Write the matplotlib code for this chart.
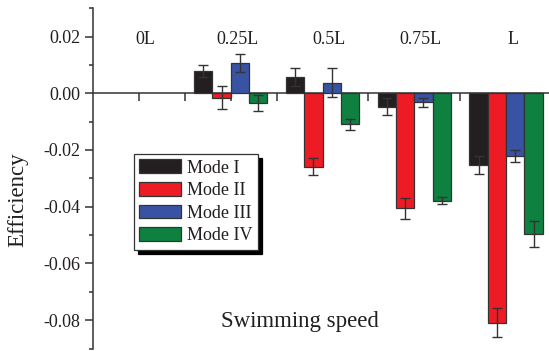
import numpy as np
import matplotlib
matplotlib.use("Agg")
import matplotlib.pyplot as plt

# ==========================================
# DATA
# ==========================================

labels = ["0L", "0.25L", "0.5L", "0.75L", "L"]
modes = ["Mode I", "Mode II", "Mode III", "Mode IV"]

mode1 = [0.0, 0.0079, 0.0056, -0.0047, -0.0253]
mode1_err = [0.0, 0.0020, 0.0032, 0.0030, 0.0032]
mode2 = [0.0, -0.0016, -0.0259, -0.0406, -0.0809]
mode2_err = [0.0, 0.0041, 0.0030, 0.0036, 0.0052]
mode3 = [0.0, 0.0106, 0.0037, -0.0032, -0.0221]
mode3_err = [0.0, 0.0032, 0.0051, 0.0017, 0.0021]
mode4 = [0.0, -0.0035, -0.0109, -0.0379, -0.0497]
mode4_err = [0.0, 0.0028, 0.0019, 0.0012, 0.0046]

colors = ["#231f20", "#ed1c24", "#3953a4", "#0e8040"]

# ==========================================
# FIGURE
# ==========================================

plt.rcParams["font.family"] = ["Liberation Serif", "DejaVu Serif"]
dark = "#231f20"

fig = plt.figure(figsize=(5.49, 3.51), dpi=100)
ax = fig.add_axes([93 / 549, 2.5 / 351, 459 / 549, 340.3 / 351])

x = np.arange(len(labels))
width = 0.2
series = [mode1, mode2, mode3, mode4]
errors = [mode1_err, mode2_err, mode3_err, mode4_err]

for k in range(4):
    pos = x + (k - 1.5) * width
    vals = np.array(series[k])
    errs = np.array(errors[k])
    nz = vals != 0  # 0L has no bars
    ax.bar(pos[nz], vals[nz], width, color=colors[k], edgecolor="#333333",
           linewidth=0.9, label=modes[k], zorder=2)
    m = errs > 0
    ax.errorbar(pos[m], vals[m], yerr=errs[m], fmt="none", ecolor="#333333",
                elinewidth=1.0, capsize=3.5, capthick=1.0, zorder=3)

for i, lab in enumerate(labels):
    ax.text(i + 0.07, 0.0188, lab, ha="center", va="center", fontsize=13, color=dark)

ax.set_xlim(-0.5, 4.5)
ax.set_ylim(-0.09, 0.03)
ax.set_yticks([-0.08, -0.06, -0.04, -0.02, 0.00, 0.02])
ax.set_yticklabels(["-0.08", "-0.06", "-0.04", "-0.02", "0.00", "0.02"])
ax.set_yticks(np.arange(-0.09, 0.031, 0.01), minor=True)
ax.set_xticks(np.arange(0, 4.6, 0.5))
ax.set_xticklabels([])

for s in ["top", "right"]:
    ax.spines[s].set_visible(False)
ax.spines["bottom"].set_position(("data", 0))
ax.spines["bottom"].set_color("#333333")
ax.spines["left"].set_color("#333333")
ax.spines["bottom"].set_linewidth(1.1)
ax.spines["left"].set_linewidth(1.1)
ax.spines["bottom"].set_zorder(1)

ax.tick_params(axis="y", which="major", direction="out", length=6, width=1.1,
               color="#333333", labelsize=13, labelcolor=dark, pad=3)
ax.tick_params(axis="y", which="minor", direction="out", length=3, width=1.1,
               color="#333333")
ax.tick_params(axis="x", which="major", direction="out", length=6, width=1.1,
               color="#333333")

fig.text(18 / 549, 1 - 200 / 351, "Efficiency", rotation=90, ha="center",
         va="center", fontsize=16.5, color=dark)
ax.text(1.75, -0.0805, "Swimming speed", ha="center", va="center",
        fontsize=16.5, color=dark)

leg = ax.legend(loc="upper left", bbox_to_anchor=(134 / 549, 1 - 154 / 351),
                bbox_transform=fig.transFigure, fontsize=13, frameon=True,
                fancybox=False, edgecolor="#333333", framealpha=1,
                handlelength=2.3, handleheight=0.8, handletextpad=0.35,
                labelspacing=0.3, borderpad=0.3, borderaxespad=0,
                shadow={"ox": 3, "oy": -3, "color": "black", "alpha": 1})
leg.get_frame().set_linewidth(0.9)
for t in leg.get_texts():
    t.set_color(dark)

fig.savefig("out.png", dpi=100)
